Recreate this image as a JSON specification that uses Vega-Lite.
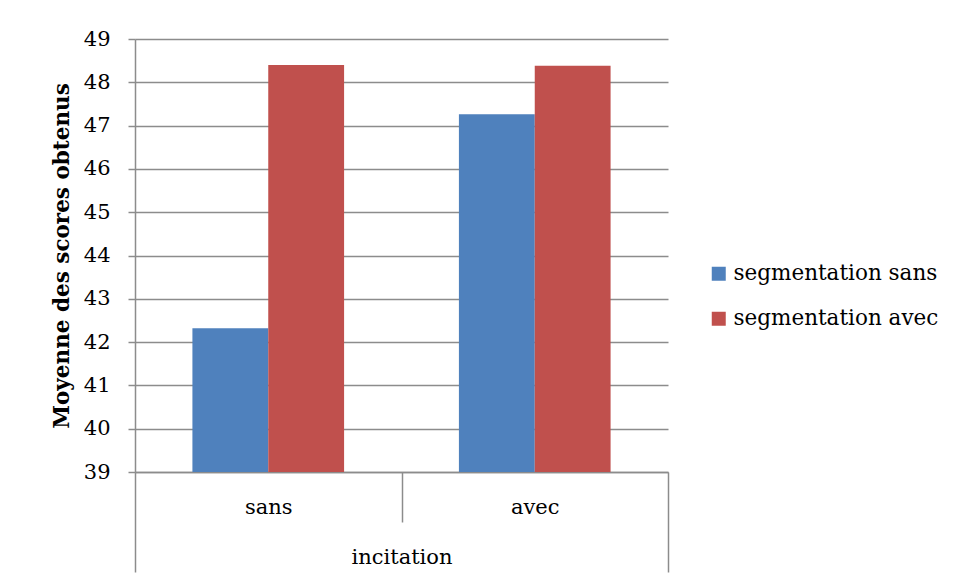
{
  "$schema": "https://vega.github.io/schema/vega-lite/v6.json",
  "width": 533,
  "height": 433,
  "autosize": {"type": "none"},
  "padding": {"left": 135, "top": 39, "right": 289, "bottom": 109},
  "background": "white",
  "data": {
    "values": [
      {"incitation": "sans", "segmentation": "segmentation sans", "score": 42.32},
      {"incitation": "sans", "segmentation": "segmentation avec", "score": 48.40},
      {"incitation": "avec", "segmentation": "segmentation sans", "score": 47.26},
      {"incitation": "avec", "segmentation": "segmentation avec", "score": 48.38}
    ]
  },
  "mark": {"type": "bar", "clip": true},
  "encoding": {
    "x": {
      "field": "incitation",
      "type": "nominal",
      "sort": ["sans", "avec"],
      "scale": {"paddingInner": 0, "paddingOuter": 0},
      "axis": {
        "title": "incitation",
        "labelAngle": 0,
        "tickBand": "extent",
        "tickSize": {"condition": {"test": "datum.value === 'sans'", "value": 50}, "value": 100},
        "labelPadding": {"condition": {"test": "datum.value === 'sans'", "value": -15}, "value": -65},
        "tickColor": "#8c8c8c",
        "tickWidth": 1.5,
        "domainColor": "#8c8c8c",
        "domainWidth": 1.5,
        "labelFont": "DejaVu Serif",
        "labelFontSize": 21,
        "labelColor": "black",
        "labelBaseline": "middle",
        "titleFont": "DejaVu Serif",
        "titleFontSize": 21,
        "titleFontWeight": "normal",
        "titleColor": "black",
        "titleY": 85,
        "titleBaseline": "middle"
      }
    },
    "xOffset": {
      "field": "segmentation",
      "type": "nominal",
      "sort": ["segmentation sans", "segmentation avec"],
      "scale": {"paddingInner": 0, "paddingOuter": 0.757}
    },
    "y": {
      "field": "score",
      "type": "quantitative",
      "scale": {"domain": [39, 49], "zero": false, "nice": false},
      "axis": {
        "title": "Moyenne des scores obtenus",
        "values": [39, 40, 41, 42, 43, 44, 45, 46, 47, 48, 49],
        "tickSize": 7,
        "labelPadding": 18,
        "labelFont": "DejaVu Serif",
        "labelFontSize": 21,
        "labelColor": "black",
        "titlePadding": 10,
        "titleFont": "DejaVu Serif",
        "titleFontSize": 21.5,
        "titleFontWeight": "bold",
        "titleColor": "black",
        "grid": true,
        "gridColor": "#8c8c8c",
        "gridWidth": 1.5,
        "tickColor": "#8c8c8c",
        "tickWidth": 1.5,
        "domainColor": "#8c8c8c",
        "domainWidth": 1.5
      }
    },
    "color": {
      "field": "segmentation",
      "type": "nominal",
      "sort": ["segmentation sans", "segmentation avec"],
      "scale": {"domain": ["segmentation sans", "segmentation avec"], "range": ["#4F81BD", "#C0504D"]},
      "legend": {
        "title": null,
        "orient": "none",
        "legendX": 573,
        "legendY": 224,
        "symbolType": "square",
        "symbolSize": 196,
        "symbolStrokeWidth": 0,
        "labelOffset": 4,
        "rowPadding": 22,
        "labelLimit": 400,
        "labelFontSize": 21.5,
        "labelFont": "DejaVu Serif",
        "labelColor": "black"
      }
    }
  },
  "config": {
    "view": {"stroke": null}
  }
}
